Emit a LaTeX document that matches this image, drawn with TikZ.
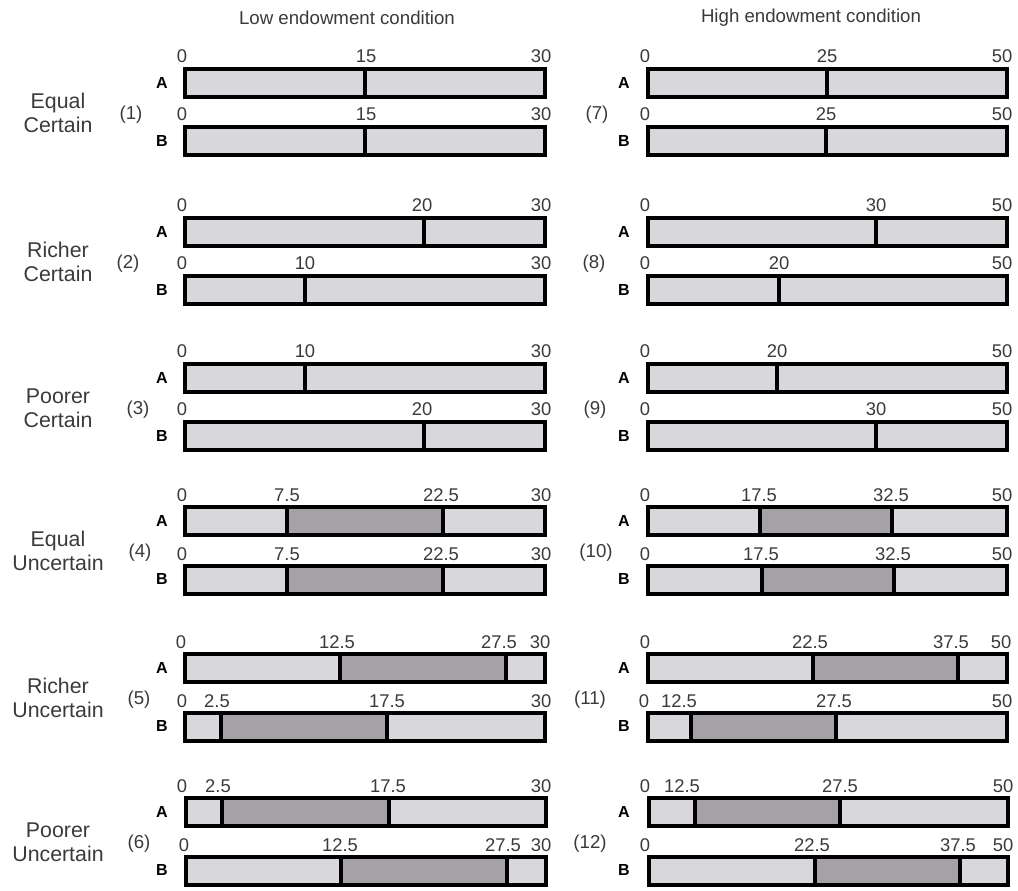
\documentclass[tikz,border=0pt]{standalone}
\usepackage{fontspec}
\setmainfont{Liberation Sans}
\definecolor{lightbar}{HTML}{D8D7DC}
\definecolor{darkbar}{HTML}{A6A1A6}
\definecolor{txt}{HTML}{3A3A3A}
\newcounter{nd}
\tikzset{
  tick/.style={font=\fontsize{13.8}{15}\selectfont, text=txt, inner sep=0pt, anchor=base},
  side/.style={font=\fontsize{16}{18}\selectfont, text=txt, align=center, inner sep=0pt},
  num/.style={font=\fontsize{14}{16}\selectfont, text=txt, inner sep=0pt},
  ab/.style={font=\fontsize{12}{14}\selectfont\bfseries, text=black, inner sep=0pt},
  ttl/.style={font=\fontsize{14}{16}\selectfont, text=txt, inner sep=0pt},
  frame/.style={draw=black, line width=2.6pt},
  divline/.style={draw=black, line width=2.4pt}
}
% tick label: x, bar top, text
\newcommand{\tk}[3]{\stepcounter{nd}\node[tick] (t\arabic{nd}) at (#1,#2-6) {#3};}
% certain bar: x0, x1, top, divider
\newcommand{\cbar}[4]{%
  \fill[lightbar] (#1,#3) rectangle (#2,#3+28);
  \draw[divline] (#4,#3) -- (#4,#3+28);
  \draw[frame] (#1,#3) rectangle (#2,#3+28);}
% uncertain bar: x0, x1, top, d1, d2
\newcommand{\ubar}[5]{%
  \fill[lightbar] (#1,#3) rectangle (#2,#3+28);
  \fill[darkbar] (#4,#3) rectangle (#5,#3+28);
  \draw[divline] (#4,#3) -- (#4,#3+28) (#5,#3) -- (#5,#3+28);
  \draw[frame] (#1,#3) rectangle (#2,#3+28);}
% A/B and pair labels: name suffix, top, left x of (n), n, side text, right x of (n), right n
\newcommand{\pairlabels}[7]{%
  \node[ab] (Al#1) at (162,#2+14) {A};
  \node[ab] (Bl#1) at (162,#2+72) {B};
  \node[ab] (Ar#1) at (624,#2+14) {A};
  \node[ab] (Br#1) at (624,#2+72) {B};
  \node[side] (s#1) at (58,#2+44) {#5};
  \node[num] (nl#1) at (#3,#2+46) {(#4)};
  \node[num] (nr#1) at (#6,#2+46) {(#7)};}
\begin{document}
\begin{tikzpicture}[x=0.75pt,y=-0.75pt]
\useasboundingbox (0,0) rectangle (1018,891);
\node[ttl] (titleL) at (347,18) {Low endowment condition};
\node[ttl] (titleR) at (811,18) {High endowment condition};

% Row 1 (top 69)
\pairlabels{1}{69}{131}{1}{Equal\\Certain}{597}{7}
\cbar{185}{545}{69}{365}
\cbar{185}{545}{127}{365}
\cbar{648}{1007}{69}{827}
\cbar{648}{1007}{127}{826}
\tk{182}{69}{0}\tk{366}{69}{15}\tk{541}{69}{30}
\tk{182}{127}{0}\tk{366}{127}{15}\tk{541}{127}{30}
\tk{645}{69}{0}\tk{827}{69}{25}\tk{1002}{69}{50}
\tk{645}{127}{0}\tk{826}{127}{25}\tk{1002}{127}{50}

% Row 2 (top 218)
\pairlabels{2}{218}{128}{2}{Richer\\Certain}{594}{8}
\cbar{185}{545}{218}{424}
\cbar{185}{545}{276}{305}
\cbar{648}{1007}{218}{876}
\cbar{648}{1007}{276}{779}
\tk{182}{218}{0}\tk{422}{218}{20}\tk{541}{218}{30}
\tk{182}{276}{0}\tk{305}{276}{10}\tk{541}{276}{30}
\tk{645}{218}{0}\tk{876}{218}{30}\tk{1002}{218}{50}
\tk{645}{276}{0}\tk{779}{276}{20}\tk{1002}{276}{50}

% Row 3 (top 364)
\pairlabels{3}{364}{138}{3}{Poorer\\Certain}{595}{9}
\cbar{185}{545}{364}{305}
\cbar{185}{545}{422}{424}
\cbar{648}{1007}{364}{777}
\cbar{648}{1007}{422}{876}
\tk{182}{364}{0}\tk{305}{364}{10}\tk{541}{364}{30}
\tk{182}{422}{0}\tk{422}{422}{20}\tk{541}{422}{30}
\tk{645}{364}{0}\tk{777}{364}{20}\tk{1002}{364}{50}
\tk{645}{422}{0}\tk{876}{422}{30}\tk{1002}{422}{50}

% Row 4 (top 507)
\pairlabels{4}{507}{140}{4}{Equal\\Uncertain}{596}{10}
\ubar{185}{545}{507}{287}{443}
\ubar{185}{545}{566}{287}{443}
\ubar{648}{1007}{507}{760}{892}
\ubar{648}{1007}{566}{762}{894}
\tk{182}{507}{0}\tk{287}{507}{7.5}\tk{441}{507}{22.5}\tk{541}{507}{30}
\tk{182}{566}{0}\tk{287}{566}{7.5}\tk{441}{566}{22.5}\tk{541}{566}{30}
\tk{645}{507}{0}\tk{759}{507}{17.5}\tk{891}{507}{32.5}\tk{1002}{507}{50}
\tk{645}{566}{0}\tk{761}{566}{17.5}\tk{893}{566}{32.5}\tk{1002}{566}{50}

% Row 5 (top 654)
\pairlabels{5}{654}{139}{5}{Richer\\Uncertain}{590}{11}
\ubar{185}{545}{654}{340}{506}
\ubar{185}{545}{713}{221}{387}
\ubar{648}{1007}{654}{813}{958}
\ubar{648}{1007}{713}{691}{836}
\tk{181}{654}{0}\tk{337}{654}{12.5}\tk{499}{654}{27.5}\tk{540}{654}{30}
\tk{182}{713}{0}\tk{217}{713}{2.5}\tk{387}{713}{17.5}\tk{541}{713}{30}
\tk{645}{654}{0}\tk{810}{654}{22.5}\tk{951}{654}{37.5}\tk{1001}{654}{50}
\tk{644}{713}{0}\tk{679}{713}{12.5}\tk{834}{713}{27.5}\tk{1002}{713}{50}

% Row 6 (top 798)
\pairlabels{6}{798}{139}{6}{Poorer\\Uncertain}{590}{12}
\ubar{186}{546}{798}{222}{389}
\ubar{186}{546}{857}{341}{507}
\ubar{649}{1008}{798}{695}{840}
\ubar{649}{1008}{857}{815}{960}
\tk{182}{798}{0}\tk{218}{798}{2.5}\tk{388}{798}{17.5}\tk{541}{798}{30}
\tk{184}{857}{0}\tk{340}{857}{12.5}\tk{503}{857}{27.5}\tk{541}{857}{30}
\tk{645}{798}{0}\tk{682}{798}{12.5}\tk{840}{798}{27.5}\tk{1003}{798}{50}
\tk{645}{857}{0}\tk{812}{857}{22.5}\tk{958}{857}{37.5}\tk{1003}{857}{50}
\end{tikzpicture}
\end{document}
